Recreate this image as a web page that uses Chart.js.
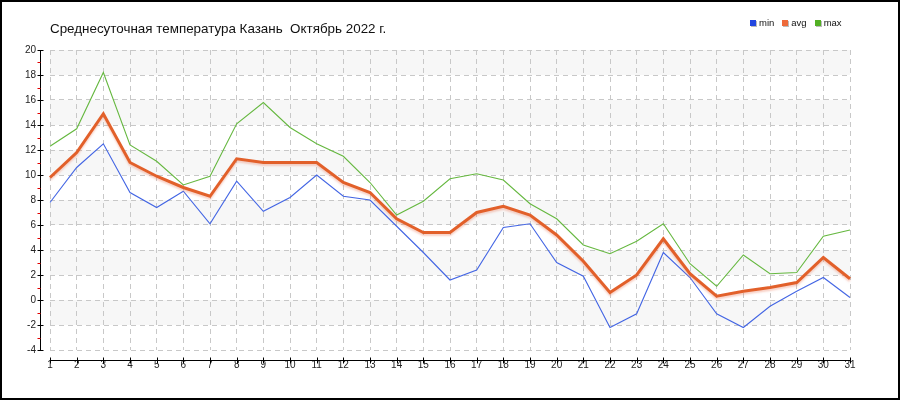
<!DOCTYPE html>
<html><head><meta charset="utf-8">
<script src="https://cdn.jsdelivr.net/npm/chart.js@4.4.1/dist/chart.umd.min.js"></script>
<style>
html,body{margin:0;padding:0;background:#fff;}
#wrap{position:relative;width:900px;height:400px;overflow:hidden;background:#fff;}
#c{position:absolute;left:0;top:0;}
#frame{position:absolute;left:0;top:0;width:900px;height:400px;box-sizing:border-box;border:2px solid #000;pointer-events:none;}
#title{position:absolute;left:50px;top:21px;font:13.4px "Liberation Sans",Arial,sans-serif;color:#111;white-space:pre;line-height:16px;}
#legend{position:absolute;left:750px;top:17px;display:flex;align-items:center;font:9.5px "Liberation Sans",Arial,sans-serif;color:#111;white-space:pre;}
#legend .it{display:flex;align-items:center;margin-right:8px;}
#legend .bx{width:6px;height:6px;margin-right:3px;box-shadow:1px 1px 0 #bbb;}
</style></head>
<body>
<div id="wrap">
<canvas id="c" width="900" height="400"></canvas>
<div id="title"></div>
<div id="legend"></div>
<div id="frame"></div>
</div>
<script>
const chartTitle = "Среднесуточная температура Казань  Октябрь 2022 г.";
const days = ["1","2","3","4","5","6","7","8","9","10","11","12","13","14","15","16","17","18","19","20","21","22","23","24","25","26","27","28","29","30","31"];
const minT = [7.8,10.6,12.5,8.6,7.4,8.7,6.1,9.5,7.1,8.2,10.0,8.3,8.0,5.9,3.8,1.6,2.4,5.8,6.1,3.0,1.9,-2.2,-1.1,3.8,1.8,-1.1,-2.2,-0.5,0.7,1.8,0.2];
const avgT = [9.8,11.8,14.9,11.0,9.9,9.0,8.3,11.3,11.0,11.0,11.0,9.4,8.6,6.5,5.4,5.4,7.0,7.5,6.8,5.2,3.1,0.6,2.0,4.9,2.1,0.3,0.7,1.0,1.4,3.4,1.7];
const maxT = [12.3,13.7,18.2,12.4,11.1,9.2,9.9,14.1,15.8,13.8,12.5,11.5,9.4,6.8,7.9,9.7,10.1,9.6,7.7,6.5,4.4,3.7,4.7,6.1,2.9,1.1,3.6,2.1,2.2,5.1,5.6];
const seriesNames = ["min","avg","max"];
const yMin = -4, yMax = 20, yStep = 2;

const lineColors = ["#4466e4","#e2602a","#66b840"];
const legendColors = ["#2246e0","#ee6a3a","#52b024"];

document.getElementById('title').textContent = chartTitle;
const leg = document.getElementById('legend');
seriesNames.forEach((n,i)=>{
  const it=document.createElement('div');it.className='it';
  const b=document.createElement('div');b.className='bx';b.style.background=legendColors[i];
  const t=document.createElement('span');t.textContent=n;
  it.appendChild(b);it.appendChild(t);leg.appendChild(it);
});

const tickFont = {family:'"Liberation Sans Narrow","Liberation Sans",Arial,sans-serif', size:10};

const decor = {
  id:'decor',
  beforeDraw(chart){
    const {ctx, chartArea:a, scales:{y}} = chart;
    ctx.save();
    ctx.fillStyle='#f7f7f7';
    for(let v=yMin; v<yMax; v+=yStep){
      if(((v - yMin)/yStep) % 2 === 1){
        const y1=y.getPixelForValue(v+yStep), y2=y.getPixelForValue(v);
        ctx.fillRect(a.left, y1, a.right-a.left, y2-y1);
      }
    }
    ctx.restore();
  },
  beforeDatasetDraw(chart,args){
    if(args.index===1){
      const ctx=chart.ctx; ctx.save();
      ctx.shadowColor='rgba(235,120,90,0.35)'; ctx.shadowOffsetX=0; ctx.shadowOffsetY=2; ctx.shadowBlur=2;
    }
  },
  afterDatasetDraw(chart,args){ if(args.index===1) chart.ctx.restore(); },
  afterDraw(chart){
    const {ctx, chartArea:a, scales:{x,y}} = chart;
    ctx.save();
    ctx.lineWidth=1;
    const ax = a.left - 10 + 0.5;
    ctx.strokeStyle='#000';
    ctx.beginPath(); ctx.moveTo(ax, a.top); ctx.lineTo(ax, a.bottom+1); ctx.stroke();
    for(let v=yMin; v<=yMax; v+=yStep){
      const py=Math.round(y.getPixelForValue(v))+0.5;
      ctx.beginPath(); ctx.moveTo(ax-3, py); ctx.lineTo(ax+3, py); ctx.stroke();
    }
    ctx.strokeStyle='#e00000';
    for(let v=yMin+1; v<yMax; v+=yStep){
      const py=Math.round(y.getPixelForValue(v))+0.5;
      ctx.beginPath(); ctx.moveTo(ax-3, py); ctx.lineTo(ax, py); ctx.stroke();
    }
    const ay = a.bottom + 10 + 0.5;
    ctx.strokeStyle='#000';
    ctx.beginPath(); ctx.moveTo(a.left, ay); ctx.lineTo(a.right+1, ay); ctx.stroke();
    days.forEach((d,i)=>{
      const px=Math.round(x.getPixelForValue(i))+0.5;
      ctx.beginPath(); ctx.moveTo(px, ay-3); ctx.lineTo(px, ay+3); ctx.stroke();
    });
    ctx.restore();
  }
};

new Chart(document.getElementById('c'), {
  type:'line',
  data:{
    labels: days,
    datasets:[
      {label:seriesNames[0], data:minT, borderColor:lineColors[0], borderWidth:1.1, pointRadius:0, tension:0, order:1},
      {label:seriesNames[1], data:avgT, borderColor:lineColors[1], borderWidth:3, pointRadius:0, tension:0, order:0},
      {label:seriesNames[2], data:maxT, borderColor:lineColors[2], borderWidth:1.1, pointRadius:0, tension:0, order:2}
    ]
  },
  options:{
    responsive:false, animation:false,
    layout:{padding:{top:50, right:50, left:0, bottom:0}},
    plugins:{legend:{display:false}, title:{display:false}, tooltip:{enabled:false}},
    scales:{
      x:{
        offset:false,
        grid:{color:'#c8c8c8', drawTicks:false, lineWidth:1},
        border:{display:false, dash:[5,4]},
        ticks:{color:'#222', font:tickFont, padding:9, maxRotation:0, autoSkip:false},
        afterFit(s){ s.height=50; }
      },
      y:{
        min:yMin, max:yMax,
        grid:{color:'#c8c8c8', drawTicks:false, lineWidth:1},
        border:{display:false, dash:[5,4]},
        ticks:{color:'#222', font:tickFont, padding:14, stepSize:yStep},
        afterFit(s){ s.width=50; }
      }
    }
  },
  plugins:[decor]
});
</script>
</body></html>
